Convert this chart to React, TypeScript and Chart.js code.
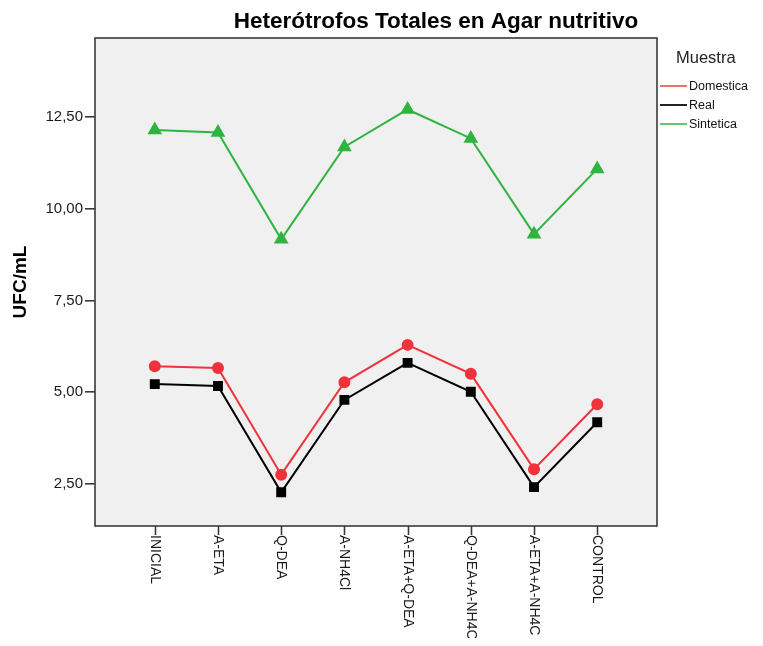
import React, { useEffect, useRef } from "react";
import { Chart, registerables } from "chart.js";

Chart.register(...registerables);

const TITLE = "Heterótrofos Totales en Agar nutritivo";
const Y_TITLE = "UFC/mL";
const LEGEND_TITLE = "Muestra";
const categories = ["INICIAL", "A-ETA", "Q-DEA", "A-NH4Cl", "A-ETA+Q-DEA", "Q-DEA+A-NH4C", "A-ETA+A-NH4C", "CONTROL"];
const domestica = [5.71, 5.66, 2.75, 5.27, 6.29, 5.5, 2.9, 4.67];
const real = [5.22, 5.17, 2.27, 4.79, 5.8, 5.01, 2.41, 4.18];
const sintetica = [12.15, 12.08, 9.17, 11.69, 12.71, 11.92, 9.31, 11.09];
const yTicks = [2.5, 5, 7.5, 10, 12.5];
const yMin = 1.35;
const yMax = 14.66;

const FONT = "Arial, 'Liberation Sans', Helvetica, sans-serif";

const decor = {
  id: "decor",
  beforeDatasetsDraw(chart: any) {
    const { ctx, chartArea: a } = chart;
    ctx.save();
    ctx.fillStyle = "#f0f0f0";
    ctx.fillRect(a.left, a.top, a.right - a.left, a.bottom - a.top);
    ctx.restore();
  },
  afterDraw(chart: any) {
    const { ctx, chartArea: a } = chart;
    const xs = chart.scales.x;
    ctx.save();
    // border
    ctx.strokeStyle = "#3a3a3a";
    ctx.lineWidth = 1.6;
    ctx.strokeRect(a.left, a.top, a.right - a.left, a.bottom - a.top);
    // x ticks and labels
    ctx.fillStyle = "#1a1a1a";
    ctx.font = `14px ${FONT}`;
    categories.forEach((c, i) => {
      const x = Math.round(xs.getPixelForValue(i)) + 0.5;
      ctx.beginPath();
      ctx.moveTo(x, a.bottom);
      ctx.lineTo(x, a.bottom + 9);
      ctx.stroke();
      ctx.save();
      ctx.translate(x - 1, a.bottom + 9);
      ctx.rotate(Math.PI / 2);
      ctx.textAlign = "left";
      ctx.textBaseline = "middle";
      ctx.fillText(c, 0, 0);
      ctx.restore();
    });
    // title
    ctx.font = `bold 22.5px ${FONT}`;
    ctx.fillStyle = "#000";
    ctx.textAlign = "center";
    ctx.textBaseline = "middle";
    ctx.fillText(TITLE, 428, 14);
    // legend
    ctx.font = `16.5px ${FONT}`;
    ctx.fillStyle = "#222";
    ctx.textAlign = "left";
    ctx.fillText(LEGEND_TITLE, 668, 50);
    ctx.font = `12.5px ${FONT}`;
    chart.data.datasets.forEach((ds: any, i: number) => {
      const y = 78 + i * 19;
      ctx.strokeStyle = ds.legendColor;
      ctx.lineWidth = 2;
      ctx.beginPath();
      ctx.moveTo(652, y);
      ctx.lineTo(679, y);
      ctx.stroke();
      ctx.fillStyle = "#111";
      ctx.fillText(ds.label, 681, y + 1);
    });
    ctx.restore();
  },
};

export default function App() {
  const ref = useRef<HTMLCanvasElement>(null);
  useEffect(() => {
    const toPts = (arr: number[]) => arr.map((v, i) => ({ x: i, y: v }));
    const chart = new Chart(ref.current!, {
      type: "line",
      data: {
        datasets: [
          {
            label: "Domestica",
            data: toPts(domestica),
            borderColor: "#f0323c",
            backgroundColor: "#f0323c",
            legendColor: "#f07070",
            pointStyle: "circle",
            pointRadius: 5,
            borderWidth: 2,
          } as any,
          {
            label: "Real",
            data: toPts(real),
            borderColor: "#000000",
            backgroundColor: "#000000",
            legendColor: "#222222",
            pointStyle: "rect",
            pointRadius: 5.6,
            borderWidth: 2,
          } as any,
          {
            label: "Sintetica",
            data: toPts(sintetica),
            borderColor: "#2fb440",
            backgroundColor: "#2fb440",
            legendColor: "#66c670",
            pointStyle: "triangle",
            pointRadius: 6.5,
            borderWidth: 2,
          } as any,
        ],
      },
      options: {
        animation: false,
        responsive: true,
        maintainAspectRatio: false,
        layout: { padding: { top: 30, right: 98, bottom: 112, left: 0 } },
        plugins: { legend: { display: false }, title: { display: false }, tooltip: { enabled: false } },
        elements: { line: { tension: 0 }, point: { borderWidth: 0 } },
        scales: {
          x: {
            type: "linear",
            display: false,
            min: -0.946,
            max: 7.946,
          },
          y: {
            type: "linear",
            min: yMin,
            max: yMax,
            afterBuildTicks: (s: any) => {
              s.ticks = yTicks.map((v) => ({ value: v }));
            },
            afterFit: (s: any) => {
              s.width = 87;
            },
            border: { display: false },
            grid: { drawOnChartArea: false, drawTicks: true, tickLength: 10, color: "#3a3a3a", lineWidth: 1.6 },
            ticks: {
              padding: 2,
              color: "#1a1a1a",
              font: { family: FONT, size: 15 },
              callback: (v: any) => Number(v).toFixed(2).replace(".", ","),
            },
            title: {
              display: true,
              text: Y_TITLE,
              color: "#000",
              font: { family: FONT, size: 19, weight: "bold" },
              padding: { top: 1, bottom: 0 },
            },
          },
        },
      },
      plugins: [decor],
    });
    return () => chart.destroy();
  }, []);
  return (
    <div style={{ width: 747, height: 630, position: "relative" }}>
      <canvas ref={ref} />
    </div>
  );
}
